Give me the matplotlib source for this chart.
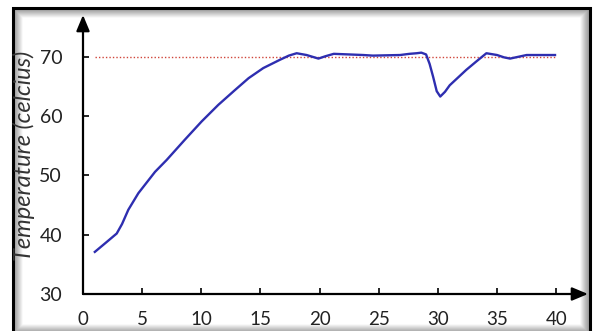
import matplotlib
matplotlib.use("Agg")
import matplotlib.pyplot as plt
from matplotlib.patches import Rectangle

# time (x) and measured temperature
time = [1.0, 1.9, 2.85, 3.3, 3.83, 4.68, 6.09, 7.07, 8.6, 10.03, 11.44,
        12.85, 14.0, 15.24, 16.65, 17.4, 18.06, 18.9, 19.9, 20.5, 21.2,
        23.7, 24.5, 26.8, 27.6, 28.2, 28.6, 29.0, 29.3, 29.6, 29.9, 30.2,
        30.6, 31.0, 32.4, 33.3, 34.1, 35.0, 35.6, 36.1, 36.8, 37.5, 39.9]
temperature = [37.1, 38.6, 40.2, 41.8, 44.2, 47.0, 50.6, 52.6, 56.0, 59.1,
               61.9, 64.4, 66.4, 68.1, 69.5, 70.2, 70.6, 70.3, 69.7, 70.1,
               70.5, 70.3, 70.2, 70.3, 70.5, 70.6, 70.7, 70.4, 68.8, 66.6,
               64.2, 63.3, 64.1, 65.2, 67.8, 69.3, 70.6, 70.3, 69.9, 69.7,
               70.0, 70.3, 70.3]

# setpoint line
setpoint_x = [1, 40]
setpoint_y = [70, 70]

xticks = [0, 5, 10, 15, 20, 25, 30, 35, 40]
yticks = [30, 40, 50, 60, 70]

W, H = 593, 331
fig = plt.figure(figsize=(W / 100, H / 100), dpi=100)
plt.rcParams["font.family"] = ["Lato", "DejaVu Sans"]


def fig_rect(left, top, right, bottom, **kw):
    # rectangle given in pixel coords (origin at top-left)
    return Rectangle((left / W, 1 - bottom / H), (right - left) / W,
                     (bottom - top) / H, transform=fig.transFigure,
                     fill=False, **kw)


# framed box with soft inner shadow
x0, y0, x1, y1 = 13, 8, 590, 334
for i in range(1, 10):
    fig.add_artist(fig_rect(x0 + i, y0 + i, x1 - i, y1 - i,
                            edgecolor="black", alpha=0.32 * (1 - i / 10),
                            lw=1.1))
fig.add_artist(fig_rect(x0, y0, x1, y1, edgecolor="black", lw=2.2))

# axes: x=0 at px 83, y=30 at px 294
ax = fig.add_axes([83 / W, 1 - 294 / H, (588 - 83) / W, (294 - 15) / H])
ax.patch.set_alpha(0)
ax.set_xlim(0, 505 / 11.83)
ax.set_ylim(30, 30 + 279 / 5.93)

ax.plot(setpoint_x, setpoint_y, color="#d0453a", lw=1.0, ls=(0, (1, 1.5)))
ax.plot(time, temperature, color="#2e2eb0", lw=1.7, solid_joinstyle="round")

for s in ax.spines.values():
    s.set_visible(False)
for tip in [(1, 0), (0, 1)]:
    ax.annotate("", xy=tip, xytext=(0, 0), xycoords="axes fraction",
                arrowprops=dict(arrowstyle="-|>,head_length=0.6,head_width=0.25",
                                color="black", lw=1.6, mutation_scale=16,
                                shrinkA=0, shrinkB=0))

ax.set_xticks(xticks)
ax.set_yticks(yticks)
ax.tick_params(direction="in", length=4, width=1.2, labelsize=14,
               labelcolor="#222222")
ax.tick_params(axis="x", pad=12, labelsize=13.5)
ax.tick_params(axis="y", pad=15)

fig.text(24 / W, 1 - 156 / H, "Temperature (celcius)", rotation=90,
         ha="center", va="center", fontsize=17, style="italic",
         color="#333333")

fig.savefig("out.png", dpi=100)
